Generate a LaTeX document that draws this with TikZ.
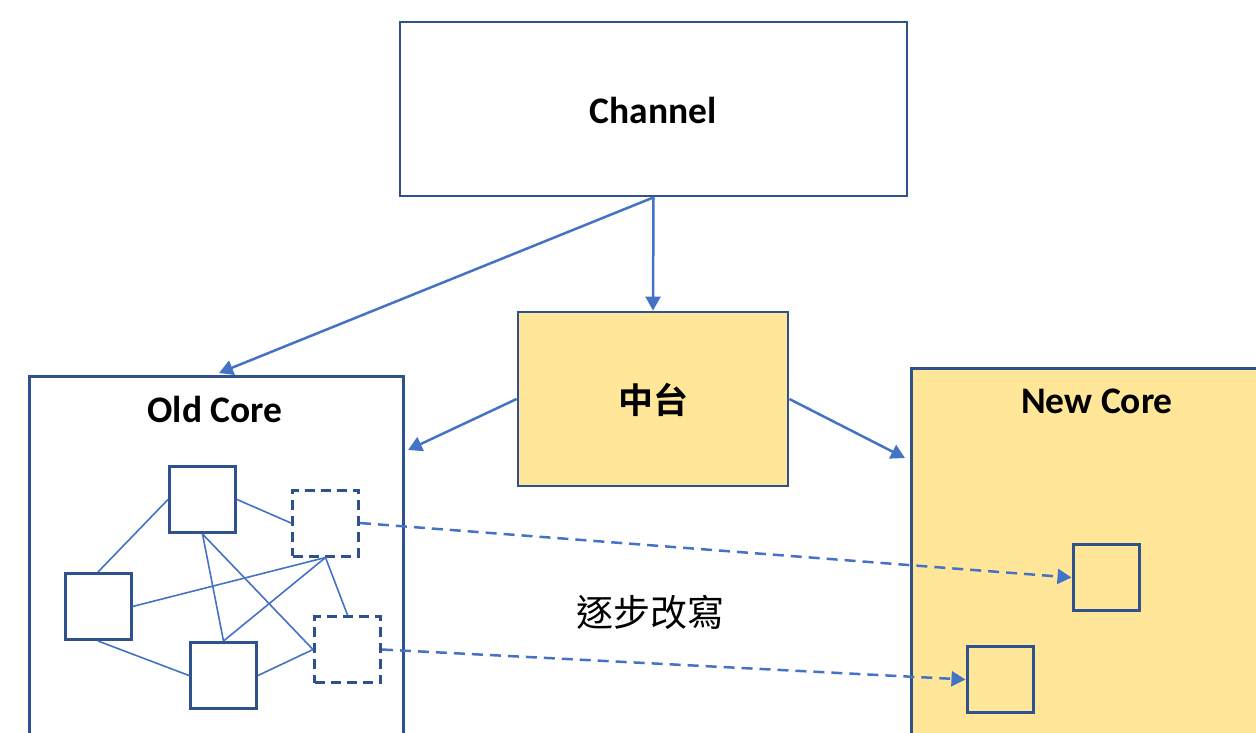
\documentclass[tikz,border=0pt]{standalone}
\usepackage{fontspec}
\setmainfont{Carlito}
\newfontfamily\cjk{Noto Sans CJK TC}[BoldFont={Noto Sans CJK TC Bold}]
\usetikzlibrary{arrows.meta}
\definecolor{boxborder}{HTML}{2F528F}
\definecolor{conn}{HTML}{4472C4}
\definecolor{corefill}{HTML}{FFE699}
\tikzset{
  bigbox/.style={draw=boxborder, line width=2.8pt, rectangle, inner sep=0pt},
  smallbox/.style={draw=boxborder, line width=3pt, rectangle, minimum width=66pt, minimum height=66pt, inner sep=0pt},
  dashbox/.style={smallbox, dash pattern=on 10pt off 6pt},
  conarrow/.style={draw=conn, line width=2.5pt, -{Triangle[length=14pt,width=15pt]}},
  dasharrow/.style={conarrow, dash pattern=on 11pt off 7pt},
  thinline/.style={draw=conn, line width=1.6pt},
  lbl/.style={font=\bfseries\fontsize{37.5}{42}\selectfont, text=black}
}
\begin{document}
\begin{tikzpicture}[x=1pt,y=-1pt]
\useasboundingbox (0,0) rectangle (1256,732);
\clip (0,0) rectangle (1256,732);
% big boxes
\node[bigbox, fill=corefill, minimum width=370pt, minimum height=400pt, anchor=north west] (newcore) at (910,367) {};
\node[bigbox, fill=white, minimum width=374pt, minimum height=400pt, anchor=north west] (oldcore) at (28,375) {};
\node[bigbox, fill=white, minimum width=507pt, minimum height=174pt] (channel) at (653.5,109) {};
\node[bigbox, fill=corefill, minimum width=270pt, minimum height=174pt] (zt) at (653,399) {};
% labels
\node[lbl] (chlabel) at (653,110) {Channel};
\node[font=\cjk\bfseries\fontsize{35}{40}\selectfont] (ztlabel) at (653,400) {中台};
\node[lbl] (oldlabel) at (215,409) {Old Core};
\node[lbl] (newlabel) at (1097,401) {New Core};
\node[font=\cjk\fontsize{37}{42}\selectfont] (gradual) at (650,612) {逐步改寫};
% small boxes
\node[smallbox, fill=white] (a) at (202.5,499.5) {};
\node[smallbox, fill=white] (b) at (98,606.5) {};
\node[smallbox, fill=white] (c) at (223.5,675.5) {};
\node[dashbox] (d) at (325.5,523) {};
\node[dashbox] (e) at (347.5,649.5) {};
\node[smallbox, fill=corefill] (n1) at (1106,577.5) {};
\node[smallbox, fill=corefill] (n2) at (1000,679.5) {};
% thin links
\draw[thinline] (a.west) -- (b.north);
\draw[thinline] (a.east) -- (d.west);
\draw[thinline] (a.south) -- (c.north);
\draw[thinline] (a.south) -- (e.west);
\draw[thinline] (b.east) -- (d.south);
\draw[thinline] (c.north) -- (d.south);
\draw[thinline] (d.south) -- (e.north);
\draw[thinline] (b.south) -- (c.west);
\draw[thinline] (c.east) -- (e.west);
% arrows
\coordinate (oldtop) at (219,373);
\coordinate (oldside) at (408,450);
\coordinate (newside) at (905,458);
\draw[conarrow] (channel.south) -- (oldtop);
\draw[conarrow] (channel.south) -- (zt.north);
\draw[conarrow] (zt.west) -- (oldside);
\draw[conarrow] (zt.east) -- (newside);
\draw[dasharrow] (d.east) -- (n1.west);
\draw[dasharrow] (e.east) -- (n2.west);
\end{tikzpicture}
\end{document}
